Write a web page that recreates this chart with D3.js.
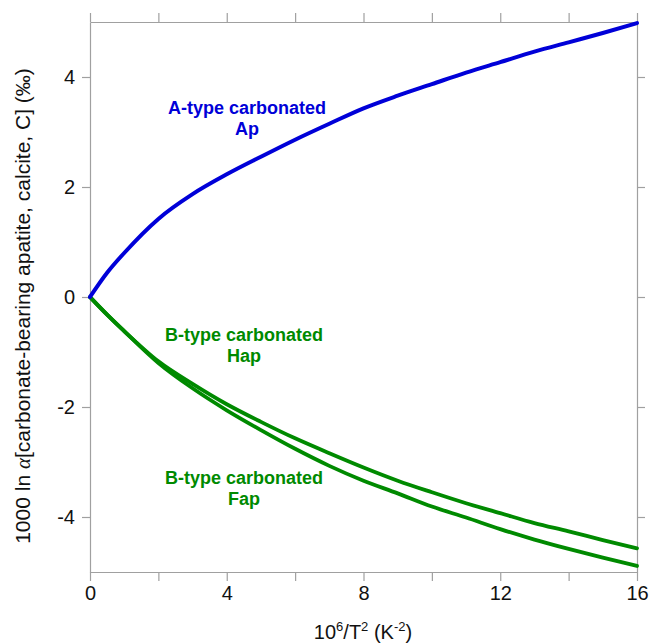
<!DOCTYPE html>
<html>
<head>
<meta charset="utf-8">
<script src="https://cdn.jsdelivr.net/npm/d3@7"></script>
<style>
  html, body { margin: 0; padding: 0; background: #fff; }
  svg { display: block; }
  text { font-family: "Liberation Sans", Arial, sans-serif; }
</style>
</head>
<body>
<svg id="chart" width="649" height="644"></svg>
<script>
// ---- data ----
const xValues = [0, 0.5, 1, 2, 3, 4, 5, 6, 7, 8, 9, 10, 11, 12, 13, 14, 15, 16];
const aTypeAp = [0, 0.44, 0.80, 1.42, 1.87, 2.23, 2.55, 2.86, 3.15, 3.43, 3.66, 3.87, 4.08, 4.27, 4.46, 4.63, 4.80, 4.98];
const bTypeHap = [0, -0.32, -0.62, -1.17, -1.58, -1.95, -2.27, -2.57, -2.84, -3.10, -3.34, -3.55, -3.75, -3.93, -4.11, -4.26, -4.42, -4.57];
const bTypeFap = [0, -0.32, -0.62, -1.20, -1.66, -2.06, -2.42, -2.76, -3.07, -3.34, -3.57, -3.81, -4.01, -4.22, -4.41, -4.58, -4.74, -4.89];
const xTicks = [0, 2, 4, 6, 8, 10, 12, 14, 16];
const xTickLabels = ["0", "", "4", "", "8", "", "12", "", "16"];
const yTicks = [-4, -2, 0, 2, 4];
const yTickLabels = ["-4", "-2", "0", "2", "4"];

const svg = d3.select("#chart");
const mLeft = 90, mRight = 637, mTop = 22, mBottom = 572;
const x = d3.scaleLinear().domain([0, 16]).range([mLeft, mRight]);
const y = d3.scaleLinear().domain([-5, 5]).range([mBottom, mTop]);
const axisColor = "#a0a0a0";

function styleAxis(g) {
  g.selectAll("path.domain").attr("stroke", axisColor).attr("stroke-width", 1.2);
  g.selectAll(".tick line").attr("stroke", axisColor).attr("stroke-width", 1.2);
  g.selectAll(".tick text").attr("fill", "#111").attr("font-size", 20)
    .attr("font-family", "'Liberation Sans', Arial, sans-serif");
}

svg.append("g").attr("transform", `translate(0,${mBottom})`)
  .call(d3.axisBottom(x).tickValues(xTicks).tickSize(9).tickSizeOuter(0).tickPadding(5)
    .tickFormat((d, i) => xTickLabels[i]))
  .call(styleAxis);
svg.append("g").attr("transform", `translate(0,${mTop})`)
  .call(d3.axisTop(x).tickValues(xTicks).tickSize(9).tickSizeOuter(0).tickFormat(""))
  .call(styleAxis);
svg.append("g").attr("transform", `translate(${mLeft},0)`)
  .call(d3.axisLeft(y).tickValues(yTicks).tickSize(8).tickSizeOuter(0).tickPadding(7)
    .tickFormat((d, i) => yTickLabels[i]))
  .call(styleAxis);
svg.append("g").attr("transform", `translate(${mRight},0)`)
  .call(d3.axisRight(y).tickValues(yTicks).tickSize(8).tickSizeOuter(0).tickFormat(""))
  .call(styleAxis);

// ---- lines ----
const line = d3.line().x(d => x(d[0])).y(d => y(d[1])).curve(d3.curveMonotoneX);
function draw(vals, color, w) {
  svg.append("path")
    .datum(xValues.map((xv, i) => [xv, vals[i]]))
    .attr("fill", "none").attr("stroke", color).attr("stroke-width", w)
    .attr("stroke-linejoin", "round").attr("stroke-linecap", "round")
    .attr("d", line);
}
const blue = "#0000d8", green = "#008a00";
draw(bTypeFap, green, 3.8);
draw(bTypeHap, green, 3.8);
draw(aTypeAp, blue, 4);

// ---- labels ----
function label(lines, cx, y0, color) {
  lines.forEach((t, i) => {
    svg.append("text").attr("x", cx).attr("y", y0 + i * 21)
      .attr("text-anchor", "middle").attr("font-weight", "bold")
      .attr("font-size", 18).attr("fill", color).text(t);
  });
}
label(["A-type carbonated", "Ap"], 247, 114, blue);
label(["B-type carbonated", "Hap"], 244, 341, green);
label(["B-type carbonated", "Fap"], 244, 484, green);

// ---- axis titles ----
const xt = svg.append("text").attr("x", 363).attr("y", 639).attr("text-anchor", "middle")
  .attr("font-size", 20).attr("fill", "#111");
xt.append("tspan").text("10");
xt.append("tspan").attr("dy", -8).attr("font-size", 13).text("6");
xt.append("tspan").attr("dy", 8).text("/T");
xt.append("tspan").attr("dy", -8).attr("font-size", 13).text("2");
xt.append("tspan").attr("dy", 8).text(" (K");
xt.append("tspan").attr("dy", -8).attr("font-size", 13).text("-2");
xt.append("tspan").attr("dy", 8).text(")");

const yt = svg.append("text").attr("transform", "translate(30,306) rotate(-90)")
  .attr("text-anchor", "middle").attr("font-size", 21).attr("fill", "#111");
yt.append("tspan").text("1000 ln ");
yt.append("tspan").attr("font-family", "'Liberation Serif', 'Times New Roman', serif")
  .attr("font-style", "italic").text("α");
yt.append("tspan").text("[carbonate-bearing apatite, calcite, C] (‰)");
</script>
</body>
</html>
